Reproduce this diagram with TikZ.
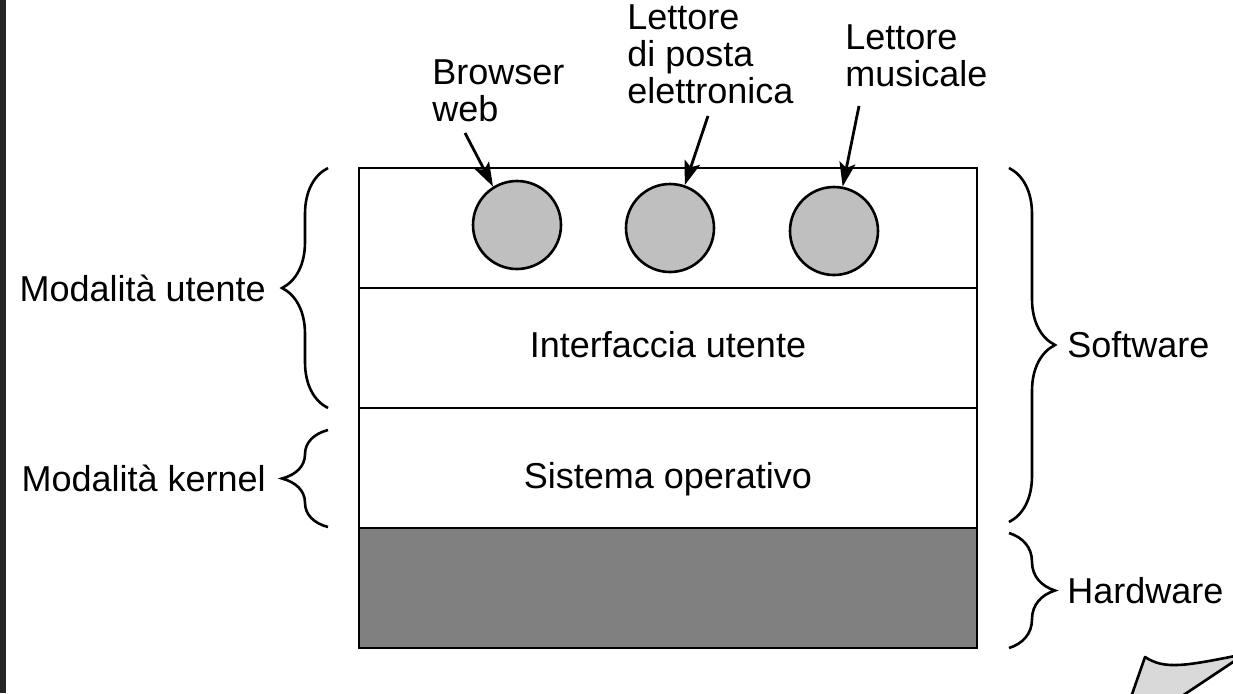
\documentclass[tikz,border=0pt]{standalone}
\usepackage{fontspec}
\setmainfont{Liberation Sans}
\usetikzlibrary{positioning,arrows.meta,decorations.pathreplacing}

\begin{document}
\begin{tikzpicture}[x=0.5pt, y=-0.5pt,
					every node/.style={font=\fontsize{18}{18.5}\selectfont},
					layer/.style={rectangle, draw=black, line width=1.3pt, minimum width=309pt, minimum height=60pt, outer sep=0pt, inner sep=0pt},
					app/.style={circle, draw=black, line width=1.3pt, fill=black!25, minimum size=44pt, inner sep=0pt},
					tag/.style={rectangle, inner sep=0pt, align=left, anchor=north west},
					side/.style={rectangle, inner sep=0pt},
					curly/.style={line width=1.3pt, decorate, decoration={brace, amplitude=23pt}},
					pointer/.style={line width=1.4pt, -{Stealth[length=12pt, width=8pt, inset=2.5pt]}}
				]
				\useasboundingbox (0,0) rectangle (1233,693);
				\fill[black!85] (0,0) rectangle (6,693);
				\node[layer] (apps) at (668,228) {};
				\node[layer, text height=9pt, text depth=0pt] (userui) [below=0pt of apps] {Interfaccia utente};
				\node[layer, text height=20pt, text depth=0pt] (opsys) [below=0pt of userui] {Sistema operativo};
				\node[layer, fill=black!50] (hardware) [below=0pt of opsys] {};
				\node[app] (browser) at (517,225) {};
				\node[app] (mailer) at (670,228) {};
				\node[app] (player) at (834,231) {};
				\node[tag] (browsertext) at (432,59) {Browser\\web};
				\node[tag] (mailertext) at (627,4) {Lettore\\di posta\\elettronica};
				\node[tag] (playertext) at (845,24) {Lettore\\musicale};
				\begin{scope}[pointer]
				\draw ([xshift=16.5pt, yshift=-5.5pt]browsertext.south west) -- (browser.122);
				\draw ([xshift=40.5pt, yshift=-6pt]mailertext.south west) -- (mailer.71);
				\draw ([xshift=7pt, yshift=-9.5pt]playertext.south west) -- (player.79);
				\end{scope}
				\draw[curly] ([xshift=-15.5pt]userui.south west) -- node[side, left=30.5pt] (usermode) {Modalità utente} ([xshift=-15.5pt]apps.north west);
				\draw[curly] ([xshift=-15.5pt, yshift=0.5pt]opsys.south west) -- node[side, left=30.5pt] (kernelmode) {Modalità kernel} ([xshift=-15.5pt, yshift=-11pt]opsys.north west);
				\draw[curly] ([xshift=16pt]apps.north east) -- node[side, right=28.5pt] (software) {Software} ([xshift=16pt, yshift=3pt]opsys.south east);
				\draw[curly] ([xshift=16pt, yshift=-2.5pt]hardware.north east) -- node[side, right=28.5pt] (hardwaretext) {Hardware} ([xshift=16pt]hardware.south east);
				\filldraw[fill=black!15, line width=1.3pt, line join=round] (1130,700) -- (1145,657) .. controls (1165,670) and (1185,666) .. (1245,654) -- (1176,700) -- cycle;
			\end{tikzpicture}
\end{document}
